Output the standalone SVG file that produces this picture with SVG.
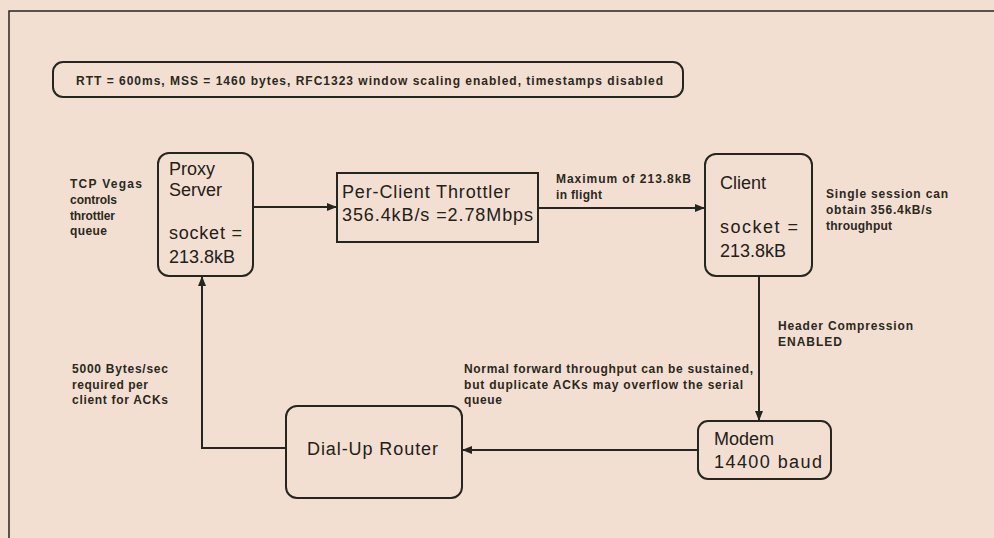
<svg xmlns="http://www.w3.org/2000/svg" width="994" height="538" viewBox="0 0 994 538">
<style>
.box{fill:none;stroke:#262620;stroke-width:2}
.ln{fill:none;stroke:#262620;stroke-width:2}
.big{font-family:"Liberation Sans",Arial,sans-serif;font-size:18px;fill:#222019}
.sm{font-family:"Liberation Sans",Arial,sans-serif;font-size:12px;font-weight:bold;fill:#2a2820}
</style>
<defs>
<marker id="ah" viewBox="0 0 10 8" refX="10" refY="4" markerWidth="10" markerHeight="8" markerUnits="userSpaceOnUse" orient="auto">
<path d="M0,0 L10,4 L0,8 Z" fill="#262620"/>
</marker>
</defs>
<rect x="0" y="0" width="994" height="538" fill="#F3DFD2"/>
<path d="M9,538 V11 H994" fill="none" stroke="#262620" stroke-width="1.5"/>

<g id="banner">
<rect class="box" x="53" y="62" width="630" height="35" rx="10"/>
<text class="sm" x="76" y="85" textLength="587" lengthAdjust="spacing">RTT = 600ms, MSS = 1460 bytes, RFC1323 window scaling enabled, timestamps disabled</text>
</g>

<g id="proxy">
<rect class="box" x="158" y="153" width="95" height="123" rx="11"/>
<text class="big" x="169" y="175">Proxy</text>
<text class="big" x="169" y="196">Server</text>
<text class="big" x="169" y="239" textLength="73" lengthAdjust="spacing">socket =</text>
<text class="big" x="169" y="263">213.8kB</text>
</g>

<g id="throttler">
<rect class="box" x="337" y="173" width="201" height="69"/>
<text class="big" x="342" y="198" textLength="168" lengthAdjust="spacing">Per-Client Throttler</text>
<text class="big" x="342" y="221" textLength="191" lengthAdjust="spacing">356.4kB/s =2.78Mbps</text>
</g>

<g id="client">
<rect class="box" x="705" y="154" width="107" height="122" rx="11"/>
<text class="big" x="720" y="189">Client</text>
<text class="big" x="720" y="233" textLength="78" lengthAdjust="spacing">socket =</text>
<text class="big" x="720" y="257">213.8kB</text>
</g>

<g id="modem">
<rect class="box" x="698" y="421" width="133" height="58" rx="10"/>
<text class="big" x="714" y="445">Modem</text>
<text class="big" x="714" y="468" textLength="108" lengthAdjust="spacing">14400 baud</text>
</g>

<g id="router">
<rect class="box" x="286" y="406" width="176" height="92" rx="11"/>
<text class="big" x="307" y="455" textLength="131" lengthAdjust="spacing">Dial-Up Router</text>
</g>

<g id="connectors">
<line class="ln" x1="253" y1="207" x2="337" y2="207" marker-end="url(#ah)"/>
<line class="ln" x1="538" y1="208" x2="705" y2="208" marker-end="url(#ah)"/>
<line class="ln" x1="759" y1="276" x2="759" y2="421" marker-end="url(#ah)"/>
<line class="ln" x1="698" y1="450" x2="462" y2="450" marker-end="url(#ah)"/>
<polyline class="ln" points="286,448 202,448 202,276" marker-end="url(#ah)"/>
</g>

<g id="notes">
<text class="sm" x="70" y="188" textLength="72" lengthAdjust="spacing">TCP Vegas</text>
<text class="sm" x="70" y="204" textLength="47" lengthAdjust="spacing">controls</text>
<text class="sm" x="70" y="220" textLength="45" lengthAdjust="spacing">throttler</text>
<text class="sm" x="70" y="235" textLength="37" lengthAdjust="spacing">queue</text>

<text class="sm" x="556" y="183" textLength="135" lengthAdjust="spacing">Maximum of 213.8kB</text>
<text class="sm" x="556" y="199" textLength="46" lengthAdjust="spacing">in flight</text>

<text class="sm" x="826" y="198" textLength="122" lengthAdjust="spacing">Single session can</text>
<text class="sm" x="826" y="214" textLength="106" lengthAdjust="spacing">obtain 356.4kB/s</text>
<text class="sm" x="826" y="230" textLength="66" lengthAdjust="spacing">throughput</text>

<text class="sm" x="778" y="330" textLength="135" lengthAdjust="spacing">Header Compression</text>
<text class="sm" x="778" y="346" textLength="64" lengthAdjust="spacing">ENABLED</text>

<text class="sm" x="464" y="373" textLength="289" lengthAdjust="spacing">Normal forward throughput can be sustained,</text>
<text class="sm" x="464" y="389" textLength="279" lengthAdjust="spacing">but duplicate ACKs may overflow the serial</text>
<text class="sm" x="464" y="404" textLength="38" lengthAdjust="spacing">queue</text>

<text class="sm" x="72" y="373" textLength="96" lengthAdjust="spacing">5000 Bytes/sec</text>
<text class="sm" x="72" y="389" textLength="76" lengthAdjust="spacing">required per</text>
<text class="sm" x="72" y="404" textLength="96" lengthAdjust="spacing">client for ACKs</text>
</g>
</svg>
